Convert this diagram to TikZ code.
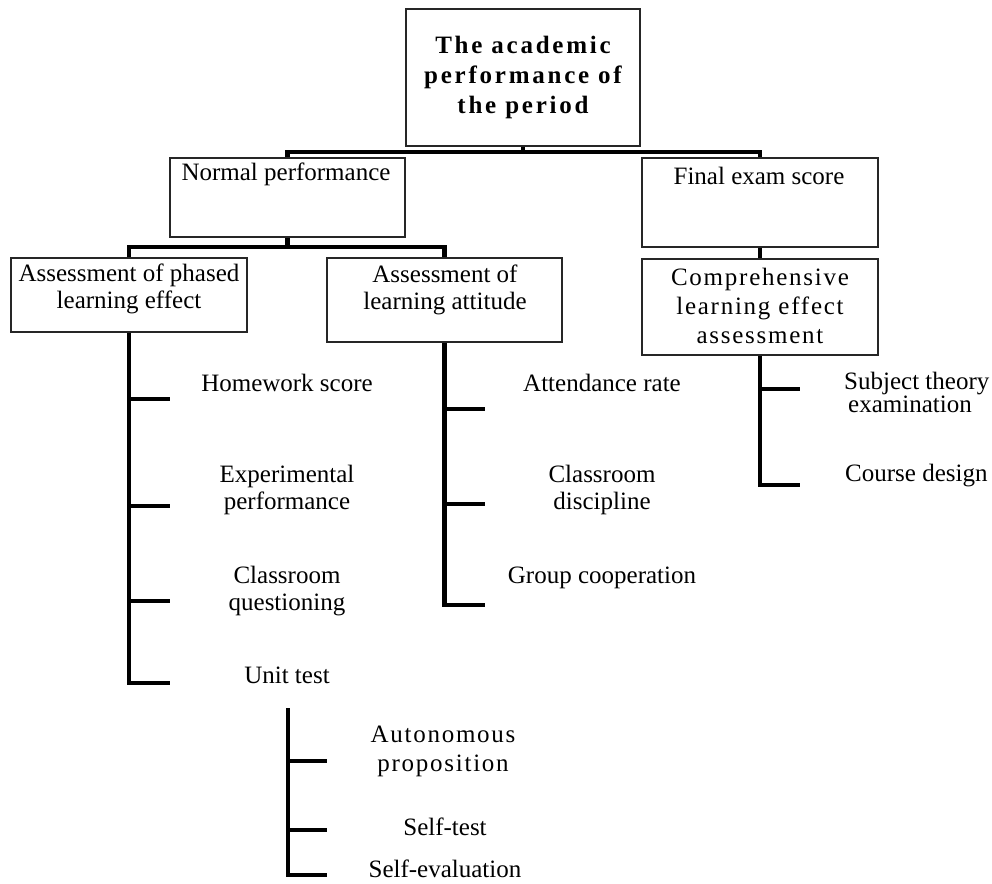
\documentclass[tikz,border=0pt]{standalone}
\usepackage{fontspec}
\setmainfont{Liberation Serif}
\newfontfamily\widefont[LetterSpace=7]{Liberation Serif}
\newfontfamily\titlefont[LetterSpace=11]{Liberation Serif}
\begin{document}
\begin{tikzpicture}[x=1pt,y=-1pt,
  box/.style={draw=black!85, line width=1.4pt, inner sep=0pt, fill=white},
  conn/.style={line width=4.2pt, black, line join=miter},
  lbl/.style={font=\fontsize{25}{27}\selectfont, align=center, inner sep=0pt},
  widelbl/.style={font=\widefont\fontsize{25}{29}\selectfont, align=center, inner sep=0pt},
  titlelbl/.style={font=\titlefont\bfseries\fontsize{25}{30}\selectfont, align=center, inner sep=0pt}]
\useasboundingbox (0,0) rectangle (992,883);
% boxes
\node[box, minimum width=234pt, minimum height=137pt] (top) at (523,77.5) {};
\node[box, minimum width=235pt, minimum height=79pt] (np) at (287.5,197.5) {};
\node[box, minimum width=236pt, minimum height=89pt] (fe) at (760,202.5) {};
\node[box, minimum width=236pt, minimum height=74pt] (ph) at (129,295) {};
\node[box, minimum width=235pt, minimum height=84pt] (at) at (444.5,300) {};
\node[box, minimum width=236pt, minimum height=96pt] (ce) at (760,307) {};
% box texts
\node[titlelbl] (topT) at (523,77) {The academic\\performance of\\the period};
\node[lbl] (npT) at (286,174) {Normal performance};
\node[lbl] (feT) at (759,176) {Final exam score};
\node[lbl] (phT) at (129,289) {Assessment of phased\\learning effect};
\node[lbl] (atT) at (445,290) {Assessment of\\learning attitude};
\node[widelbl] (ceT) at (760,306) {Comprehensive\\learning effect\\assessment};
% tree connectors
\coordinate (b1) at (523,152);
\coordinate (b2) at (287.5,247);
\draw[conn] (top.south) -- (b1);
\draw[conn] (np.north) |- (b1) -| (fe.north);
\draw[conn] (np.south) -- (b2);
\draw[conn] (ph.north) |- (b2) -| (at.north);
\draw[conn] (fe.south) -- (ce.north);
% left branch
\coordinate (pL1) at (129,399); \coordinate (pR1) at (170,399);
\coordinate (pL2) at (129,506); \coordinate (pR2) at (170,506);
\coordinate (pL3) at (129,601); \coordinate (pR3) at (170,601);
\coordinate (pL4) at (129,683); \coordinate (pR4) at (170,683);
\draw[conn] (ph.south) -- (pL4) -- (pR4);
\draw[conn] (pL1) -- (pR1);
\draw[conn] (pL2) -- (pR2);
\draw[conn] (pL3) -- (pR3);
\node[lbl] (hw) at (287,383) {Homework score};
\node[lbl] (ep) at (287,490) {Experimental\\performance};
\node[lbl] (cq) at (287,591) {Classroom\\questioning};
\node[lbl] (ut) at (287,675) {Unit test};
% middle branch
\coordinate (aL1) at (444.5,409); \coordinate (aR1) at (485,409);
\coordinate (aL2) at (444.5,504); \coordinate (aR2) at (485,504);
\coordinate (aL3) at (444.5,605); \coordinate (aR3) at (485,605);
\draw[conn] (at.south) -- (aL3) -- (aR3);
\draw[conn] (aL1) -- (aR1);
\draw[conn] (aL2) -- (aR2);
\node[lbl] (ar) at (602,383) {Attendance rate};
\node[lbl] (cd) at (602,490) {Classroom\\discipline};
\node[lbl] (gc) at (602,578) {Group cooperation};
% right branch
\coordinate (cL1) at (760,389); \coordinate (cR1) at (800,389);
\coordinate (cL2) at (760,485); \coordinate (cR2) at (800,485);
\draw[conn] (ce.south) -- (cL2) -- (cR2);
\draw[conn] (cL1) -- (cR1);
\node[lbl, font=\fontsize{25}{21}\selectfont, align=left, anchor=west] (st) at (844,392) {Subject theory\\\hspace*{4pt}examination};
\node[lbl, anchor=west] (cdn) at (845,476) {Course design};
% bottom branch
\coordinate (uTop) at (288,708);
\coordinate (uL1) at (288,761); \coordinate (uR1) at (327,761);
\coordinate (uL2) at (288,830); \coordinate (uR2) at (327,830);
\coordinate (uL3) at (288,875); \coordinate (uR3) at (327,875);
\draw[conn] (uTop) -- (uL3) -- (uR3);
\draw[conn] (uL1) -- (uR1);
\draw[conn] (uL2) -- (uR2);
\node[widelbl] (apn) at (443,751) {Autonomous\\proposition};
\node[lbl] (stt) at (445,827) {Self-test};
\node[lbl] (sev) at (445,869) {Self-evaluation};
\end{tikzpicture}
\end{document}
